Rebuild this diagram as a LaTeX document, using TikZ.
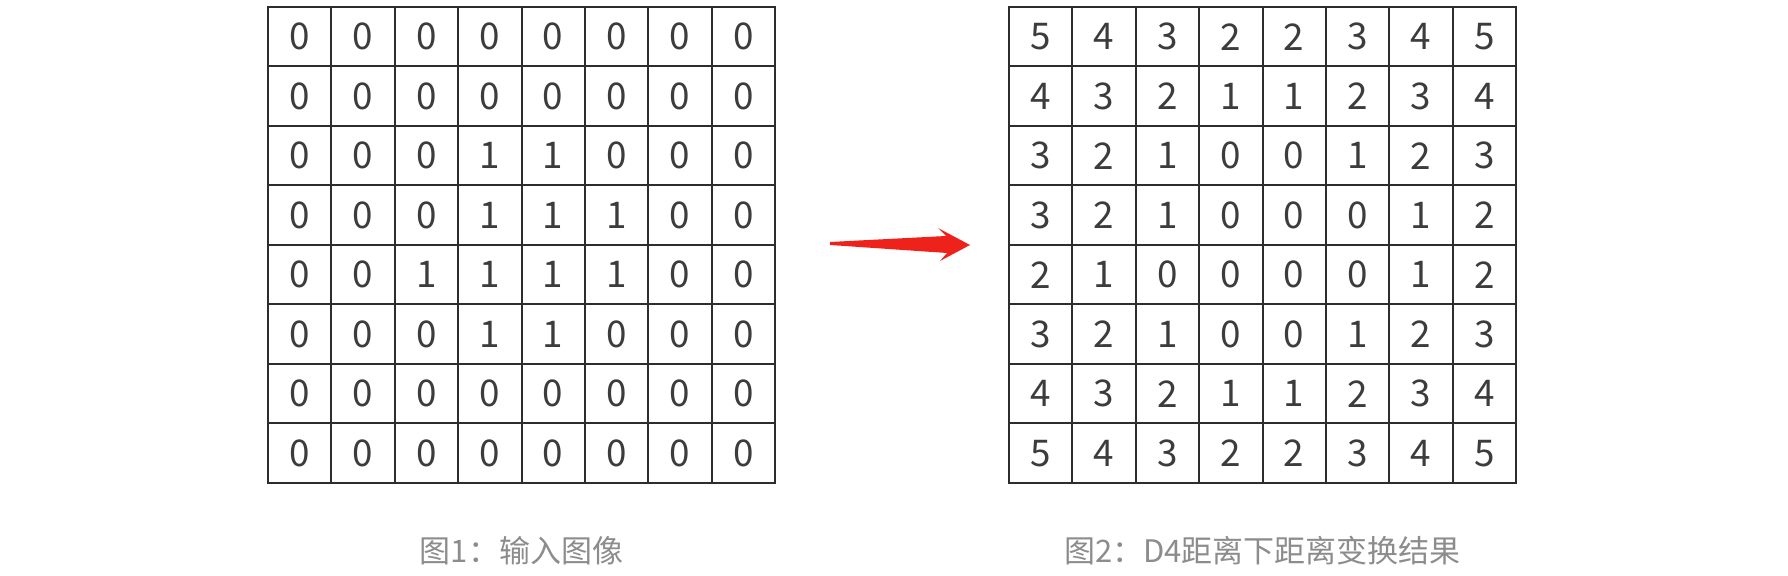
\documentclass[tikz,border=0pt]{standalone}
\usepackage{fontspec}
\setmainfont{Noto Sans CJK SC}
\usepackage{xcolor}
\definecolor{gridline}{RGB}{45,45,45}
\definecolor{digit}{RGB}{60,60,60}
\definecolor{captext}{RGB}{140,140,140}
\definecolor{arrred}{RGB}{238,34,26}
\usepackage{tikz}
\usetikzlibrary{positioning, calc}
\tikzstyle{cell} = [
    rectangle, text centered,
    minimum width=31.69pt,
    minimum height=29.75pt,
    inner sep=0pt,
    draw=gridline,
    line width=1pt,
    text=digit,
    font=\fontsize{18.4}{20}\selectfont,
]
\tikzstyle{caption} = [
    text=captext,
    inner sep=0pt,
    font=\fontsize{15.5}{18}\selectfont,
]

\begin{document}
\begin{tikzpicture}[x=0.5pt, y=-0.5pt]
    \useasboundingbox (0,0) rectangle (1788,576);

    % input image
    \foreach \row [count=\r] in {
        {0,0,0,0,0,0,0,0},
        {0,0,0,0,0,0,0,0},
        {0,0,0,1,1,0,0,0},
        {0,0,0,1,1,1,0,0},
        {0,0,1,1,1,1,0,0},
        {0,0,0,1,1,0,0,0},
        {0,0,0,0,0,0,0,0},
        {0,0,0,0,0,0,0,0}} {
        \foreach \v [count=\c] in \row {
            \node (in-\r-\c) at (268+63.375*\c-31.69, 7+59.5*\r-29.75) [cell] {\v};
        }
    }

    % distance transform
    \foreach \row [count=\r] in {
        {5,4,3,2,2,3,4,5},
        {4,3,2,1,1,2,3,4},
        {3,2,1,0,0,1,2,3},
        {3,2,1,0,0,0,1,2},
        {2,1,0,0,0,0,1,2},
        {3,2,1,0,0,1,2,3},
        {4,3,2,1,1,2,3,4},
        {5,4,3,2,2,3,4,5}} {
        \foreach \v [count=\c] in \row {
            \node (dt-\r-\c) at (1009+63.375*\c-31.69, 7+59.5*\r-29.75) [cell] {\v};
        }
    }

    % captions
    \node (cap1) at (521.5, 551) [caption] {图1：输入图像};
    \node (cap2) at (1262.5, 551) [caption] {图2：D4距离下距离变换结果};

    % arrow
    \coordinate (arrtail) at (830, 243.5);
    \coordinate (arrtip) at (970, 245);
    \fill [arrred] ($(arrtail)+(0,-1.5)$) -- (946, 236) -- (938, 228) -- (arrtip)
        -- (940, 261) -- (947, 253) -- ($(arrtail)+(0,1.5)$) -- cycle;
\end{tikzpicture}
\end{document}
